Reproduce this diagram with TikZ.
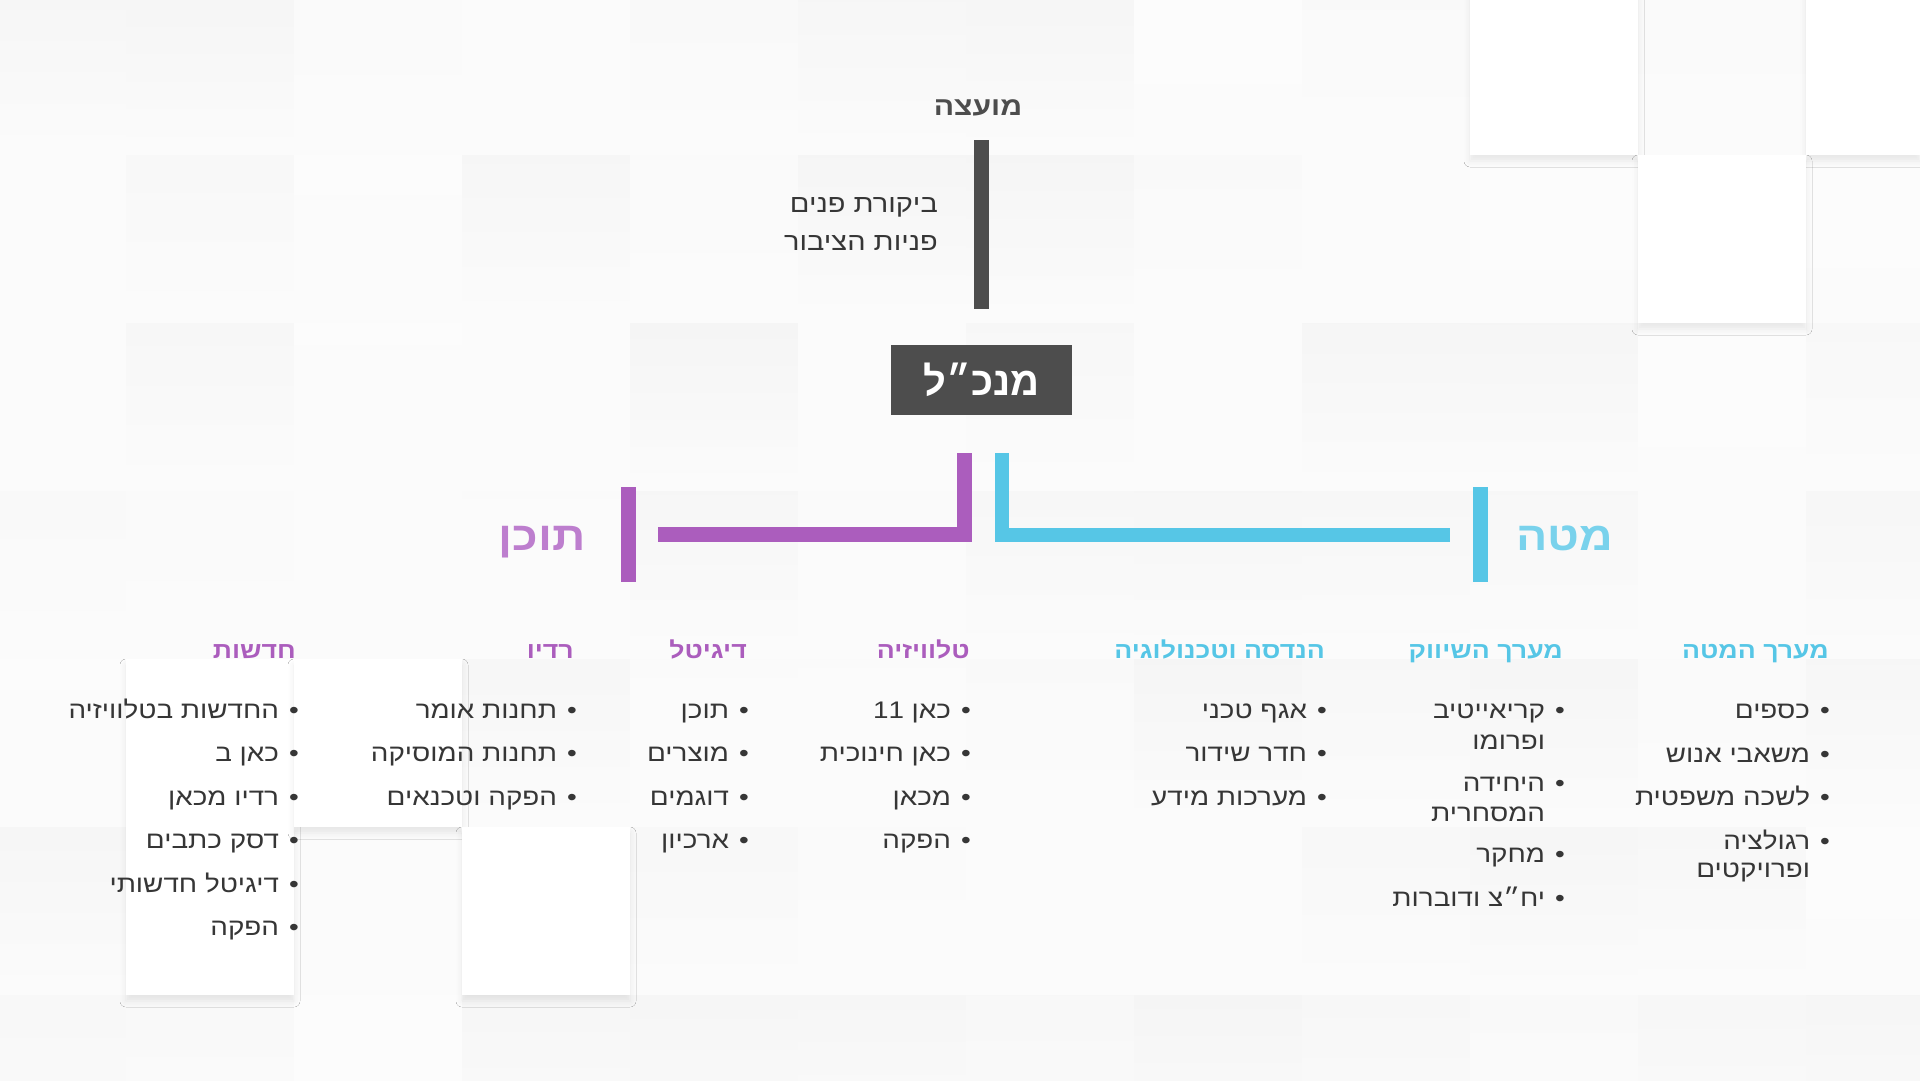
\documentclass[tikz,border=0pt]{standalone}
\usepackage{fontspec}
\setmainfont{Liberation Sans}[Script=Hebrew]
\newfontfamily\wide{Liberation Sans}[Script=Hebrew,FakeStretch=1.16]
\usetikzlibrary{positioning,shadows.blur}
\TeXXeTstate=1
\newcommand\rl[1]{\beginR#1\endR}
\newcommand\li[1]{\beginR\textbullet\hspace{10pt}#1\endR}
\newcommand\lc[1]{\beginR\phantom{\textbullet}\hspace{10pt}#1\endR}
\definecolor{ink}{HTML}{363636}
\definecolor{boss}{HTML}{4D4D4D}
\definecolor{content}{HTML}{AB5DBD}
\definecolor{contentlt}{HTML}{BD7ECE}
\definecolor{staff}{HTML}{56C6E6}
\definecolor{stafflt}{HTML}{79D2EC}
\tikzset{
  item/.style={anchor=base east, inner sep=0pt, text=ink, font=\wide\fontsize{24}{28}\selectfont},
  head/.style={anchor=base east, inner sep=0pt, font=\wide\bfseries\fontsize{23}{28}\selectfont},
  big/.style={inner sep=0pt, font=\wide\bfseries\fontsize{40}{46}\selectfont},
  vbar/.style={inner sep=0pt, minimum height=95pt},
  card/.style={fill=white, blur shadow={shadow xshift=0pt, shadow yshift=-6pt, shadow opacity=8, shadow blur radius=6pt}}
}
\begin{document}
\begin{tikzpicture}[x=1pt,y=-1pt]
\useasboundingbox (0,0) rectangle (1920,1080);
% background tiles
\fill[black!2.5] (0,0) rectangle (1920,1080);
\pgfmathsetseed{7}
\foreach \x in {-42,126,...,1806}
  \foreach \y in {-13,155,...,995}{
    \pgfmathsetmacro\g{1+3*rnd}
    \shade[top color=black!\g, bottom color=black!1.5] (\x,\y) rectangle ++(168,168);
  }
\fill[card] (1470,-13) rectangle (1638,155);
\fill[card] (1806,-13) rectangle (1920,155);
\fill[card] (1638,155) rectangle (1806,323);
\fill[card] (126,659) rectangle (294,995);
\fill[card] (294,659) rectangle (462,827);
\fill[card] (462,827) rectangle (630,995);

% top
\node[inner sep=0pt, anchor=base, text=boss, font=\wide\bfseries\fontsize{26}{30}\selectfont] (council) at (978,115) {\rl{מועצה}};
\node[inner sep=0pt, anchor=east, align=right, text=ink, font=\wide\fontsize{25}{38}\selectfont] (audit) at (938,224) {\rl{ביקורת פנים}\\\rl{פניות הציבור}};
\node[fill=boss, minimum width=181pt, minimum height=70pt, text=white, font=\bfseries\fontsize{40}{46}\selectfont] (mgr) at (981.5,380) {\rl{מנכ״ל}};
\draw[boss, line width=15pt, shorten <=25pt, shorten >=36pt] (mgr.north |- council.base) -- (mgr.north);

% branches
\node[vbar, fill=content, minimum width=15pt] (cbar) at (628.5,534.5) {};
\node[vbar, fill=staff, minimum width=15pt] (sbar) at (1480,534.5) {};
\node[big, anchor=base east, text=contentlt] (content) at (586,550) {\rl{תוכן}};
\node[big, anchor=base west, text=stafflt] (hq) at (1516,550) {\rl{מטה}};
\draw[content, line width=15pt, shorten <=38pt, shorten >=22pt] ([xshift=-17pt]mgr.south) |- (cbar.east);
\draw[staff, line width=14pt, shorten <=38pt, shorten >=22pt] ([xshift=20pt]mgr.south) |- (sbar.west);

% departments
\node[head, text=content] (news) at (296,658) {\rl{חדשות}};
\node[head, text=content] (radio) at (574,658) {\rl{רדיו}};
\node[head, text=content] (digital) at (747,658) {\rl{דיגיטל}};
\node[head, text=content] (tv) at (970,658) {\rl{טלוויזיה}};
\node[head, text=staff] (eng) at (1325,658) {\rl{הנדסה וטכנולוגיה}};
\node[head, text=staff] (mkt) at (1563,658) {\rl{מערך השיווק}};
\node[head, text=staff] (admin) at (1829,658) {\rl{מערך המטה}};

\foreach \t [count=\i] in {החדשות בטלוויזיה,כאן ב,רדיו מכאן,דסק כתבים,דיגיטל חדשותי,הפקה}
  \node[item] (news-\i) at ([xshift=3pt,yshift={-(60+43.5*(\i-1))*1pt}]news.base east) {\li{\t}};
\foreach \t [count=\i] in {תחנות אומר,תחנות המוסיקה,הפקה וטכנאים}
  \node[item] (radio-\i) at ([xshift=3pt,yshift={-(60+43.5*(\i-1))*1pt}]radio.base east) {\li{\t}};
\foreach \t [count=\i] in {תוכן,מוצרים,דוגמים,ארכיון}
  \node[item] (digital-\i) at ([xshift=2pt,yshift={-(60+43.5*(\i-1))*1pt}]digital.base east) {\li{\t}};
\foreach \t [count=\i] in {כאן 11,כאן חינוכית,מכאן,הפקה}
  \node[item] (tv-\i) at ([xshift=1pt,yshift={-(60+43.5*(\i-1))*1pt}]tv.base east) {\li{\t}};
\foreach \t [count=\i] in {אגף טכני,חדר שידור,מערכות מידע}
  \node[item] (eng-\i) at ([xshift=2pt,yshift={-(60+43.5*(\i-1))*1pt}]eng.base east) {\li{\t}};
\foreach \d/\t [count=\i] in {0/\li{קריאייטיב},31/\lc{ופרומו},73/\li{היחידה},103/\lc{המסחרית},144/\li{מחקר},188/\li{יח״צ ודוברות}}
  \node[item] (mkt-\i) at ([xshift=2pt,yshift={-(60+\d)*1pt}]mkt.base east) {\t};
\foreach \d/\t [count=\i] in {0/\li{כספים},44/\li{משאבי אנוש},87/\li{לשכה משפטית},131/\li{רגולציה},159/\lc{ופרויקטים}}
  \node[item] (admin-\i) at ([xshift=1pt,yshift={-(60+\d)*1pt}]admin.base east) {\t};
\end{tikzpicture}
\end{document}
